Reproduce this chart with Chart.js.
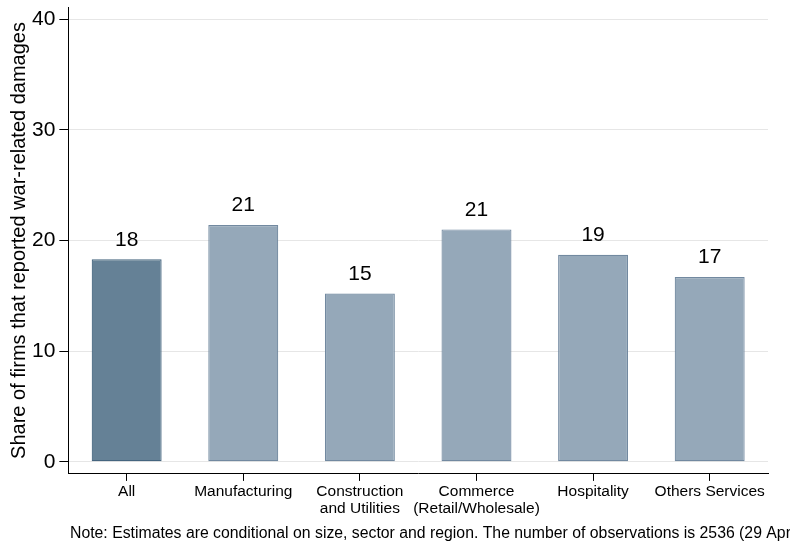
<!DOCTYPE html>
<html>
<head>
<meta charset="utf-8">
<script src="https://cdn.jsdelivr.net/npm/chart.js@4"></script>
<style>
  body { margin: 0; background: #fff; }
  #wrap { width: 790px; height: 546px; position: relative; }
</style>
</head>
<body>
<div id="wrap"><canvas id="myChart"></canvas></div>
<script>
const categories = ['All', 'Manufacturing', ['Construction', 'and Utilities'], ['Commerce', '(Retail/Wholesale)'], 'Hospitality', 'Others Services'];
const shares = [18.3, 21.4, 15.2, 21.0, 18.7, 16.7];
const yTicks = [0, 10, 20, 30, 40];
const noteText = 'Note: Estimates are conditional on size, sector and region. The number of observations is 2536 (29 April 2022).';

const fills = ['#658196', '#95a8b9', '#95a8b9', '#95a8b9', '#95a8b9', '#95a8b9'];
const borders = ['#45657f', '#7289a0', '#7289a0', '#7289a0', '#7289a0', '#7289a0'];

// value labels above the bars + note under the chart
const labelsPlugin = {
  id: 'labelsPlugin',
  afterDatasetsDraw(chart) {
    const ctx = chart.ctx;
    const meta = chart.getDatasetMeta(0);
    ctx.save();
    ctx.fillStyle = '#000';
    ctx.font = '21px "Liberation Sans", Arial, sans-serif';
    ctx.textAlign = 'center';
    ctx.textBaseline = 'bottom';
    meta.data.forEach((bar, i) => {
      ctx.fillText(Math.round(shares[i]), bar.x, bar.y - 9);
    });
    ctx.restore();
  },
  afterDraw(chart) {
    const ctx = chart.ctx;
    ctx.save();
    ctx.fillStyle = '#000';
    ctx.font = '15.8px "Liberation Sans", Arial, sans-serif';
    ctx.textAlign = 'left';
    ctx.textBaseline = 'middle';
    ctx.fillText(noteText, 70, 534);
    ctx.restore();
  }
};

const config = {
  type: 'bar',
  data: {
    labels: categories,
    datasets: [{
      data: shares,
      backgroundColor: fills,
      borderColor: borders,
      borderWidth: 1.2,
      borderSkipped: false,
      barPercentage: 0.6,
      categoryPercentage: 1
    }]
  },
  options: {
    responsive: true,
    maintainAspectRatio: false,
    animation: false,
    layout: { padding: { top: 7, right: 22, bottom: 27, left: 10 } },
    plugins: {
      legend: { display: false },
      tooltip: { enabled: false }
    },
    scales: {
      x: {
        offset: true,
        grid: {
          offset: false,
          drawOnChartArea: false,
          drawTicks: true,
          tickLength: 7,
          tickColor: '#000'
        },
        border: { color: '#000', width: 1 },
        ticks: {
          color: '#000',
          padding: 2,
          maxRotation: 0,
          autoSkip: false,
          font: { family: '"Liberation Sans", Arial, sans-serif', size: 15.5, lineHeight: 1.1 }
        }
      },
      y: {
        min: -1.1,
        max: 41.1,
        afterBuildTicks(axis) {
          axis.ticks = yTicks.map(v => ({ value: v }));
        },
        afterFit(axis) {
          axis.paddingTop = 0;
          axis.paddingBottom = 0;
        },
        grid: {
          color: '#e6e6e6',
          tickColor: '#000',
          tickLength: 9,
          lineWidth: 1
        },
        border: { color: '#000', width: 1 },
        ticks: {
          color: '#000',
          padding: 4,
          font: { family: '"Liberation Sans", Arial, sans-serif', size: 21 }
        },
        title: {
          display: true,
          text: 'Share of firms that reported war-related damages',
          color: '#000',
          padding: { top: 0, bottom: 0 },
          font: { family: '"Liberation Sans", Arial, sans-serif', size: 20, lineHeight: 0.9 }
        }
      }
    }
  },
  plugins: [labelsPlugin]
};

const myChart = new Chart(document.getElementById('myChart'), config);
</script>
</body>
</html>
